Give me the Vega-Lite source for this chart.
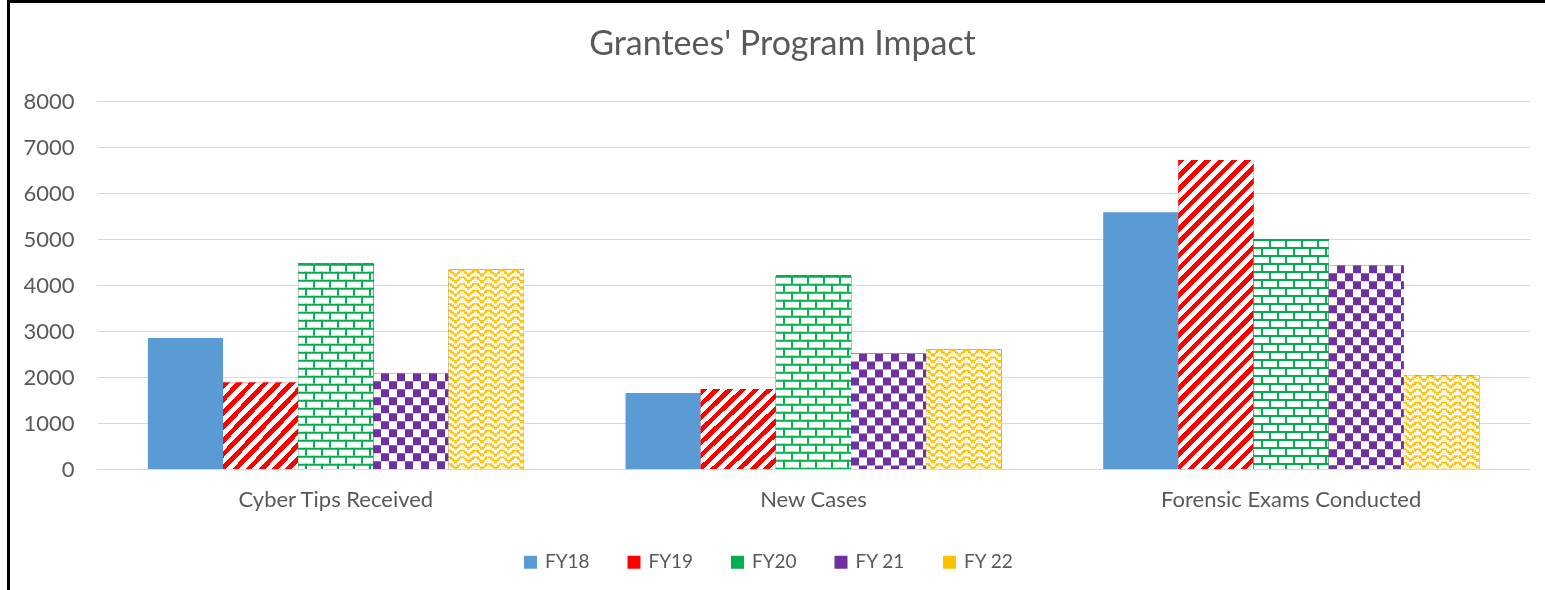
{
  "$schema": "https://vega.github.io/schema/vega-lite/v6.json",
  "width": 1433,
  "height": 368,
  "autosize": {"type": "none"},
  "padding": {"left": 97, "top": 101, "right": 15, "bottom": 121},
  "background": "white",
  "title": {"text": "Grantees' Program Impact", "font": "Lato", "fontSize": 34, "fontWeight": "normal", "color": "#595959", "anchor": "middle", "baseline": "alphabetic", "offset": -89, "dx": -31},
  "data": {"values": [
    {"cat": "Cyber Tips Received", "year": "FY18", "value": 2850},
    {"cat": "Cyber Tips Received", "year": "FY19", "value": 1880},
    {"cat": "Cyber Tips Received", "year": "FY20", "value": 4460},
    {"cat": "Cyber Tips Received", "year": "FY 21", "value": 2080},
    {"cat": "Cyber Tips Received", "year": "FY 22", "value": 4330},
    {"cat": "New Cases", "year": "FY18", "value": 1650},
    {"cat": "New Cases", "year": "FY19", "value": 1740},
    {"cat": "New Cases", "year": "FY20", "value": 4200},
    {"cat": "New Cases", "year": "FY 21", "value": 2510},
    {"cat": "New Cases", "year": "FY 22", "value": 2590},
    {"cat": "Forensic Exams Conducted", "year": "FY18", "value": 5580},
    {"cat": "Forensic Exams Conducted", "year": "FY19", "value": 6720},
    {"cat": "Forensic Exams Conducted", "year": "FY20", "value": 5000},
    {"cat": "Forensic Exams Conducted", "year": "FY 21", "value": 4430},
    {"cat": "Forensic Exams Conducted", "year": "FY 22", "value": 2040}
  ]},
  "encoding": {
    "x": {"field": "cat", "type": "nominal", "scale": {"domain": ["Cyber Tips Received", "New Cases", "Forensic Exams Conducted"], "paddingInner": 0.213, "paddingOuter": 0.1065}, "axis": {"title": null, "labelAngle": 0, "labelPadding": 20, "labelLimit": 0, "grid": false, "domain": false, "ticks": false}},
    "xOffset": {"field": "year", "type": "nominal", "scale": {"domain": ["FY18", "FY19", "FY20", "FY 21", "FY 22"], "paddingInner": 0, "paddingOuter": 0}},
    "y": {"field": "value", "type": "quantitative", "scale": {"domain": [0, 8000], "nice": false}, "axis": {"title": null, "format": "d", "values": [0, 1000, 2000, 3000, 4000, 5000, 6000, 7000, 8000], "grid": true, "domain": false, "ticks": false, "labelPadding": 23}}
  },
  "layer": [
    {
      "mark": {"type": "bar"},
      "encoding": {
        "color": {"field": "year", "type": "nominal", "scale": {"domain": ["FY18", "FY19", "FY20", "FY 21", "FY 22"], "range": ["#5B9BD5", "#FF0000", "#00B050", "#7030A0", "#FFC000"]}, "legend": {"orient": "none", "legendX": 424, "legendY": 451.5, "direction": "horizontal", "columns": 5, "title": null, "symbolType": "square", "symbolSize": 169, "symbolStrokeWidth": 0, "labelFont": "Lato", "labelFontSize": 19, "labelColor": "#595959", "labelOffset": 5, "columnPadding": 34.5, "padding": 0}},
        "opacity": {"datum": "frame", "type": "nominal", "scale": {"range": [1]}, "legend": {"orient": "none", "legendX": -88.5, "legendY": -99.5, "padding": 1500, "strokeColor": "black", "title": null, "labelExpr": "''", "symbolOpacity": 0, "symbolStrokeWidth": 0}}
      }
    },
    {
      "transform": [{"filter": "datum.year === 'FY19' && datum.cat !== 'Forensic Exams Conducted'"}],
      "mark": {"type": "bar", "color": {"gradient": "linear", "x1": 0, "y1": 0, "x2": 0.947, "y2": 1.047, "stops": [{"offset":0,"color":"red"},{"offset":0.04167,"color":"red"},{"offset":0.04167,"color":"#fff"},{"offset":0.08333,"color":"#fff"},{"offset":0.08333,"color":"red"},{"offset":0.125,"color":"red"},{"offset":0.125,"color":"#fff"},{"offset":0.16667,"color":"#fff"},{"offset":0.16667,"color":"red"},{"offset":0.20833,"color":"red"},{"offset":0.20833,"color":"#fff"},{"offset":0.25,"color":"#fff"},{"offset":0.25,"color":"red"},{"offset":0.29167,"color":"red"},{"offset":0.29167,"color":"#fff"},{"offset":0.33333,"color":"#fff"},{"offset":0.33333,"color":"red"},{"offset":0.375,"color":"red"},{"offset":0.375,"color":"#fff"},{"offset":0.41667,"color":"#fff"},{"offset":0.41667,"color":"red"},{"offset":0.45833,"color":"red"},{"offset":0.45833,"color":"#fff"},{"offset":0.5,"color":"#fff"},{"offset":0.5,"color":"red"},{"offset":0.54167,"color":"red"},{"offset":0.54167,"color":"#fff"},{"offset":0.58333,"color":"#fff"},{"offset":0.58333,"color":"red"},{"offset":0.625,"color":"red"},{"offset":0.625,"color":"#fff"},{"offset":0.66667,"color":"#fff"},{"offset":0.66667,"color":"red"},{"offset":0.70833,"color":"red"},{"offset":0.70833,"color":"#fff"},{"offset":0.75,"color":"#fff"},{"offset":0.75,"color":"red"},{"offset":0.79167,"color":"red"},{"offset":0.79167,"color":"#fff"},{"offset":0.83333,"color":"#fff"},{"offset":0.83333,"color":"red"},{"offset":0.875,"color":"red"},{"offset":0.875,"color":"#fff"},{"offset":0.91667,"color":"#fff"},{"offset":0.91667,"color":"red"},{"offset":0.95833,"color":"red"},{"offset":0.95833,"color":"#fff"},{"offset":1,"color":"#fff"}]}}
    },
    {
      "transform": [{"filter": "datum.year === 'FY19' && datum.cat === 'Forensic Exams Conducted'"}],
      "mark": {"type": "bar", "color": {"gradient": "linear", "x1": 0, "y1": 0, "x2": 0.28547, "y2": 1.17378, "stops": [{"offset":0,"color":"red"},{"offset":0.01724,"color":"red"},{"offset":0.01724,"color":"#fff"},{"offset":0.03448,"color":"#fff"},{"offset":0.03448,"color":"red"},{"offset":0.05172,"color":"red"},{"offset":0.05172,"color":"#fff"},{"offset":0.06897,"color":"#fff"},{"offset":0.06897,"color":"red"},{"offset":0.08621,"color":"red"},{"offset":0.08621,"color":"#fff"},{"offset":0.10345,"color":"#fff"},{"offset":0.10345,"color":"red"},{"offset":0.12069,"color":"red"},{"offset":0.12069,"color":"#fff"},{"offset":0.13793,"color":"#fff"},{"offset":0.13793,"color":"red"},{"offset":0.15517,"color":"red"},{"offset":0.15517,"color":"#fff"},{"offset":0.17241,"color":"#fff"},{"offset":0.17241,"color":"red"},{"offset":0.18966,"color":"red"},{"offset":0.18966,"color":"#fff"},{"offset":0.2069,"color":"#fff"},{"offset":0.2069,"color":"red"},{"offset":0.22414,"color":"red"},{"offset":0.22414,"color":"#fff"},{"offset":0.24138,"color":"#fff"},{"offset":0.24138,"color":"red"},{"offset":0.25862,"color":"red"},{"offset":0.25862,"color":"#fff"},{"offset":0.27586,"color":"#fff"},{"offset":0.27586,"color":"red"},{"offset":0.2931,"color":"red"},{"offset":0.2931,"color":"#fff"},{"offset":0.31034,"color":"#fff"},{"offset":0.31034,"color":"red"},{"offset":0.32759,"color":"red"},{"offset":0.32759,"color":"#fff"},{"offset":0.34483,"color":"#fff"},{"offset":0.34483,"color":"red"},{"offset":0.36207,"color":"red"},{"offset":0.36207,"color":"#fff"},{"offset":0.37931,"color":"#fff"},{"offset":0.37931,"color":"red"},{"offset":0.39655,"color":"red"},{"offset":0.39655,"color":"#fff"},{"offset":0.41379,"color":"#fff"},{"offset":0.41379,"color":"red"},{"offset":0.43103,"color":"red"},{"offset":0.43103,"color":"#fff"},{"offset":0.44828,"color":"#fff"},{"offset":0.44828,"color":"red"},{"offset":0.46552,"color":"red"},{"offset":0.46552,"color":"#fff"},{"offset":0.48276,"color":"#fff"},{"offset":0.48276,"color":"red"},{"offset":0.5,"color":"red"},{"offset":0.5,"color":"#fff"},{"offset":0.51724,"color":"#fff"},{"offset":0.51724,"color":"red"},{"offset":0.53448,"color":"red"},{"offset":0.53448,"color":"#fff"},{"offset":0.55172,"color":"#fff"},{"offset":0.55172,"color":"red"},{"offset":0.56897,"color":"red"},{"offset":0.56897,"color":"#fff"},{"offset":0.58621,"color":"#fff"},{"offset":0.58621,"color":"red"},{"offset":0.60345,"color":"red"},{"offset":0.60345,"color":"#fff"},{"offset":0.62069,"color":"#fff"},{"offset":0.62069,"color":"red"},{"offset":0.63793,"color":"red"},{"offset":0.63793,"color":"#fff"},{"offset":0.65517,"color":"#fff"},{"offset":0.65517,"color":"red"},{"offset":0.67241,"color":"red"},{"offset":0.67241,"color":"#fff"},{"offset":0.68966,"color":"#fff"},{"offset":0.68966,"color":"red"},{"offset":0.7069,"color":"red"},{"offset":0.7069,"color":"#fff"},{"offset":0.72414,"color":"#fff"},{"offset":0.72414,"color":"red"},{"offset":0.74138,"color":"red"},{"offset":0.74138,"color":"#fff"},{"offset":0.75862,"color":"#fff"},{"offset":0.75862,"color":"red"},{"offset":0.77586,"color":"red"},{"offset":0.77586,"color":"#fff"},{"offset":0.7931,"color":"#fff"},{"offset":0.7931,"color":"red"},{"offset":0.81034,"color":"red"},{"offset":0.81034,"color":"#fff"},{"offset":0.82759,"color":"#fff"},{"offset":0.82759,"color":"red"},{"offset":0.84483,"color":"red"},{"offset":0.84483,"color":"#fff"},{"offset":0.86207,"color":"#fff"},{"offset":0.86207,"color":"red"},{"offset":0.87931,"color":"red"},{"offset":0.87931,"color":"#fff"},{"offset":0.89655,"color":"#fff"},{"offset":0.89655,"color":"red"},{"offset":0.91379,"color":"red"},{"offset":0.91379,"color":"#fff"},{"offset":0.93103,"color":"#fff"},{"offset":0.93103,"color":"red"},{"offset":0.94828,"color":"red"},{"offset":0.94828,"color":"#fff"},{"offset":0.96552,"color":"#fff"},{"offset":0.96552,"color":"red"},{"offset":0.98276,"color":"red"},{"offset":0.98276,"color":"#fff"},{"offset":1,"color":"#fff"}]}}
    },
    {
      "transform": [{"filter": "datum.year === 'FY20'"}],
      "mark": {"type": "bar", "color": {"gradient": "linear", "x1": 0, "y1": 0, "x2": 1, "y2": 0, "stops": [{"offset":0,"color":"#000"},{"offset":0.0931,"color":"#000"},{"offset":0.0931,"color":"#fff"},{"offset":0.1197,"color":"#fff"},{"offset":0.1197,"color":"#000"},{"offset":0.1995,"color":"#000"},{"offset":0.1995,"color":"#fff"},{"offset":0.2261,"color":"#fff"},{"offset":0.2261,"color":"#000"},{"offset":0.3059,"color":"#000"},{"offset":0.3059,"color":"#fff"},{"offset":0.3325,"color":"#fff"},{"offset":0.3325,"color":"#000"},{"offset":0.4123,"color":"#000"},{"offset":0.4123,"color":"#fff"},{"offset":0.4389,"color":"#fff"},{"offset":0.4389,"color":"#000"},{"offset":0.5188,"color":"#000"},{"offset":0.5188,"color":"#fff"},{"offset":0.5454,"color":"#fff"},{"offset":0.5454,"color":"#000"},{"offset":0.6252,"color":"#000"},{"offset":0.6252,"color":"#fff"},{"offset":0.6518,"color":"#fff"},{"offset":0.6518,"color":"#000"},{"offset":0.7316,"color":"#000"},{"offset":0.7316,"color":"#fff"},{"offset":0.7582,"color":"#fff"},{"offset":0.7582,"color":"#000"},{"offset":0.838,"color":"#000"},{"offset":0.838,"color":"#fff"},{"offset":0.8646,"color":"#fff"},{"offset":0.8646,"color":"#000"},{"offset":0.9444,"color":"#000"},{"offset":0.9444,"color":"#fff"},{"offset":0.971,"color":"#fff"},{"offset":0.971,"color":"#000"},{"offset":1,"color":"#000"}]}}
    },
    {
      "transform": [{"filter": "datum.year === 'FY20'"}],
      "mark": {"type": "rule", "color": "#000", "strokeWidth": 75.18, "strokeDash": [8, 8]},
      "encoding": {"y2": {"datum": 0}}
    },
    {
      "transform": [{"filter": "datum.year === 'FY20'"}],
      "mark": {"type": "bar", "blend": "difference", "color": {"gradient": "linear", "x1": 0, "y1": 0, "x2": 1, "y2": 0, "stops": [{"offset":0,"color":"#fff"},{"offset":0.1995,"color":"#fff"},{"offset":0.1995,"color":"#000"},{"offset":0.2261,"color":"#000"},{"offset":0.2261,"color":"#fff"},{"offset":0.4123,"color":"#fff"},{"offset":0.4123,"color":"#000"},{"offset":0.4389,"color":"#000"},{"offset":0.4389,"color":"#fff"},{"offset":0.6252,"color":"#fff"},{"offset":0.6252,"color":"#000"},{"offset":0.6518,"color":"#000"},{"offset":0.6518,"color":"#fff"},{"offset":0.838,"color":"#fff"},{"offset":0.838,"color":"#000"},{"offset":0.8646,"color":"#000"},{"offset":0.8646,"color":"#fff"},{"offset":1,"color":"#fff"}]}}
    },
    {
      "transform": [{"filter": "datum.year === 'FY20'"}],
      "mark": {"type": "rule", "color": "#000", "strokeWidth": 75.18, "strokeDash": [2, 6]},
      "encoding": {"y2": {"datum": 0}}
    },
    {
      "transform": [{"filter": "datum.year === 'FY20'"}],
      "mark": {"type": "bar", "blend": "screen", "color": "#00B050"}
    },
    {
      "transform": [{"filter": "datum.year === 'FY 21'"}],
      "mark": {"type": "bar", "color": {"gradient": "linear", "x1": 0, "y1": 0, "x2": 1, "y2": 0, "stops": [{"offset":0,"color":"#000"},{"offset":0.1064,"color":"#000"},{"offset":0.1064,"color":"#fff"},{"offset":0.2128,"color":"#fff"},{"offset":0.2128,"color":"#000"},{"offset":0.3192,"color":"#000"},{"offset":0.3192,"color":"#fff"},{"offset":0.4256,"color":"#fff"},{"offset":0.4256,"color":"#000"},{"offset":0.5321,"color":"#000"},{"offset":0.5321,"color":"#fff"},{"offset":0.6385,"color":"#fff"},{"offset":0.6385,"color":"#000"},{"offset":0.7449,"color":"#000"},{"offset":0.7449,"color":"#fff"},{"offset":0.8513,"color":"#fff"},{"offset":0.8513,"color":"#000"},{"offset":0.9577,"color":"#000"},{"offset":0.9577,"color":"#fff"},{"offset":1,"color":"#fff"}]}}
    },
    {
      "transform": [{"filter": "datum.year === 'FY 21'"}],
      "mark": {"type": "rule", "color": "#fff", "blend": "difference", "strokeWidth": 75.18, "strokeDash": [8, 8]},
      "encoding": {"y2": {"datum": 0}}
    },
    {
      "transform": [{"filter": "datum.year === 'FY 21'"}],
      "mark": {"type": "bar", "blend": "screen", "color": "#7030A0"}
    },
    {
      "transform": [{"filter": "datum.year === 'FY 22'"}],
      "mark": {"type": "bar", "color": {"gradient": "linear", "x1": 0, "y1": 0, "x2": 1, "y2": 0, "stops": [{"offset":0,"color":"#000"},{"offset":0.02217,"color":"#000"},{"offset":0.02217,"color":"#fff"},{"offset":0.04434,"color":"#fff"},{"offset":0.04434,"color":"#000"},{"offset":0.06651,"color":"#000"},{"offset":0.06651,"color":"#fff"},{"offset":0.11085,"color":"#fff"},{"offset":0.11085,"color":"#000"},{"offset":0.13301,"color":"#000"},{"offset":0.13301,"color":"#fff"},{"offset":0.15518,"color":"#fff"},{"offset":0.15518,"color":"#000"},{"offset":0.19952,"color":"#000"},{"offset":0.19952,"color":"#fff"},{"offset":0.22169,"color":"#fff"},{"offset":0.22169,"color":"#000"},{"offset":0.24386,"color":"#000"},{"offset":0.24386,"color":"#fff"},{"offset":0.2882,"color":"#fff"},{"offset":0.2882,"color":"#000"},{"offset":0.31037,"color":"#000"},{"offset":0.31037,"color":"#fff"},{"offset":0.33254,"color":"#fff"},{"offset":0.33254,"color":"#000"},{"offset":0.37687,"color":"#000"},{"offset":0.37687,"color":"#fff"},{"offset":0.39904,"color":"#fff"},{"offset":0.39904,"color":"#000"},{"offset":0.42121,"color":"#000"},{"offset":0.42121,"color":"#fff"},{"offset":0.46555,"color":"#fff"},{"offset":0.46555,"color":"#000"},{"offset":0.48772,"color":"#000"},{"offset":0.48772,"color":"#fff"},{"offset":0.50989,"color":"#fff"},{"offset":0.50989,"color":"#000"},{"offset":0.55423,"color":"#000"},{"offset":0.55423,"color":"#fff"},{"offset":0.57639,"color":"#fff"},{"offset":0.57639,"color":"#000"},{"offset":0.59856,"color":"#000"},{"offset":0.59856,"color":"#fff"},{"offset":0.6429,"color":"#fff"},{"offset":0.6429,"color":"#000"},{"offset":0.66507,"color":"#000"},{"offset":0.66507,"color":"#fff"},{"offset":0.68724,"color":"#fff"},{"offset":0.68724,"color":"#000"},{"offset":0.73158,"color":"#000"},{"offset":0.73158,"color":"#fff"},{"offset":0.75375,"color":"#fff"},{"offset":0.75375,"color":"#000"},{"offset":0.77592,"color":"#000"},{"offset":0.77592,"color":"#fff"},{"offset":0.82025,"color":"#fff"},{"offset":0.82025,"color":"#000"},{"offset":0.84242,"color":"#000"},{"offset":0.84242,"color":"#fff"},{"offset":0.86459,"color":"#fff"},{"offset":0.86459,"color":"#000"},{"offset":0.90893,"color":"#000"},{"offset":0.90893,"color":"#fff"},{"offset":0.9311,"color":"#fff"},{"offset":0.9311,"color":"#000"},{"offset":0.95327,"color":"#000"},{"offset":0.95327,"color":"#fff"},{"offset":0.99761,"color":"#fff"},{"offset":0.99761,"color":"#000"},{"offset":1,"color":"#000"}]}}
    },
    {
      "transform": [{"filter": "datum.year === 'FY 22'"}],
      "mark": {"type": "rule", "color": "#fff", "strokeWidth": 75.18, "strokeDash": [1.6667, 5], "strokeDashOffset": 5},
      "encoding": {"y2": {"datum": 0}}
    },
    {
      "transform": [{"filter": "datum.year === 'FY 22'"}],
      "mark": {"type": "bar", "blend": "difference", "color": {"gradient": "linear", "x1": 0, "y1": 0, "x2": 1, "y2": 0, "stops": [{"offset":0,"color":"#000"},{"offset":0.02217,"color":"#000"},{"offset":0.02217,"color":"#fff"},{"offset":0.04434,"color":"#fff"},{"offset":0.04434,"color":"#000"},{"offset":0.06651,"color":"#000"},{"offset":0.06651,"color":"#fff"},{"offset":0.11085,"color":"#fff"},{"offset":0.11085,"color":"#000"},{"offset":0.13301,"color":"#000"},{"offset":0.13301,"color":"#fff"},{"offset":0.15518,"color":"#fff"},{"offset":0.15518,"color":"#000"},{"offset":0.19952,"color":"#000"},{"offset":0.19952,"color":"#fff"},{"offset":0.22169,"color":"#fff"},{"offset":0.22169,"color":"#000"},{"offset":0.24386,"color":"#000"},{"offset":0.24386,"color":"#fff"},{"offset":0.2882,"color":"#fff"},{"offset":0.2882,"color":"#000"},{"offset":0.31037,"color":"#000"},{"offset":0.31037,"color":"#fff"},{"offset":0.33254,"color":"#fff"},{"offset":0.33254,"color":"#000"},{"offset":0.37687,"color":"#000"},{"offset":0.37687,"color":"#fff"},{"offset":0.39904,"color":"#fff"},{"offset":0.39904,"color":"#000"},{"offset":0.42121,"color":"#000"},{"offset":0.42121,"color":"#fff"},{"offset":0.46555,"color":"#fff"},{"offset":0.46555,"color":"#000"},{"offset":0.48772,"color":"#000"},{"offset":0.48772,"color":"#fff"},{"offset":0.50989,"color":"#fff"},{"offset":0.50989,"color":"#000"},{"offset":0.55423,"color":"#000"},{"offset":0.55423,"color":"#fff"},{"offset":0.57639,"color":"#fff"},{"offset":0.57639,"color":"#000"},{"offset":0.59856,"color":"#000"},{"offset":0.59856,"color":"#fff"},{"offset":0.6429,"color":"#fff"},{"offset":0.6429,"color":"#000"},{"offset":0.66507,"color":"#000"},{"offset":0.66507,"color":"#fff"},{"offset":0.68724,"color":"#fff"},{"offset":0.68724,"color":"#000"},{"offset":0.73158,"color":"#000"},{"offset":0.73158,"color":"#fff"},{"offset":0.75375,"color":"#fff"},{"offset":0.75375,"color":"#000"},{"offset":0.77592,"color":"#000"},{"offset":0.77592,"color":"#fff"},{"offset":0.82025,"color":"#fff"},{"offset":0.82025,"color":"#000"},{"offset":0.84242,"color":"#000"},{"offset":0.84242,"color":"#fff"},{"offset":0.86459,"color":"#fff"},{"offset":0.86459,"color":"#000"},{"offset":0.90893,"color":"#000"},{"offset":0.90893,"color":"#fff"},{"offset":0.9311,"color":"#fff"},{"offset":0.9311,"color":"#000"},{"offset":0.95327,"color":"#000"},{"offset":0.95327,"color":"#fff"},{"offset":0.99761,"color":"#fff"},{"offset":0.99761,"color":"#000"},{"offset":1,"color":"#000"}]}}
    },
    {
      "transform": [{"filter": "datum.year === 'FY 22'"}],
      "mark": {"type": "rule", "color": "#fff", "strokeWidth": 75.18, "strokeDash": [1.6667, 5], "strokeDashOffset": 3.3333},
      "encoding": {"y2": {"datum": 0}}
    },
    {
      "transform": [{"filter": "datum.year === 'FY 22'"}],
      "mark": {"type": "bar", "blend": "difference", "color": {"gradient": "linear", "x1": 0, "y1": 0, "x2": 1, "y2": 0, "stops": [{"offset":0,"color":"#000"},{"offset":0.04434,"color":"#000"},{"offset":0.04434,"color":"#fff"},{"offset":0.06651,"color":"#fff"},{"offset":0.06651,"color":"#000"},{"offset":0.11085,"color":"#000"},{"offset":0.11085,"color":"#fff"},{"offset":0.13301,"color":"#fff"},{"offset":0.13301,"color":"#000"},{"offset":0.22169,"color":"#000"},{"offset":0.22169,"color":"#fff"},{"offset":0.24386,"color":"#fff"},{"offset":0.24386,"color":"#000"},{"offset":0.2882,"color":"#000"},{"offset":0.2882,"color":"#fff"},{"offset":0.31037,"color":"#fff"},{"offset":0.31037,"color":"#000"},{"offset":0.39904,"color":"#000"},{"offset":0.39904,"color":"#fff"},{"offset":0.42121,"color":"#fff"},{"offset":0.42121,"color":"#000"},{"offset":0.46555,"color":"#000"},{"offset":0.46555,"color":"#fff"},{"offset":0.48772,"color":"#fff"},{"offset":0.48772,"color":"#000"},{"offset":0.57639,"color":"#000"},{"offset":0.57639,"color":"#fff"},{"offset":0.59856,"color":"#fff"},{"offset":0.59856,"color":"#000"},{"offset":0.6429,"color":"#000"},{"offset":0.6429,"color":"#fff"},{"offset":0.66507,"color":"#fff"},{"offset":0.66507,"color":"#000"},{"offset":0.75375,"color":"#000"},{"offset":0.75375,"color":"#fff"},{"offset":0.77592,"color":"#fff"},{"offset":0.77592,"color":"#000"},{"offset":0.82025,"color":"#000"},{"offset":0.82025,"color":"#fff"},{"offset":0.84242,"color":"#fff"},{"offset":0.84242,"color":"#000"},{"offset":0.9311,"color":"#000"},{"offset":0.9311,"color":"#fff"},{"offset":0.95327,"color":"#fff"},{"offset":0.95327,"color":"#000"},{"offset":0.99761,"color":"#000"},{"offset":0.99761,"color":"#fff"},{"offset":1,"color":"#fff"}]}}
    },
    {
      "transform": [{"filter": "datum.year === 'FY 22'"}],
      "mark": {"type": "rule", "color": "#fff", "strokeWidth": 75.18, "strokeDash": [1.6667, 5], "strokeDashOffset": 1.6667},
      "encoding": {"y2": {"datum": 0}}
    },
    {
      "transform": [{"filter": "datum.year === 'FY 22'"}],
      "mark": {"type": "bar", "blend": "difference", "color": {"gradient": "linear", "x1": 0, "y1": 0, "x2": 1, "y2": 0, "stops": [{"offset":0,"color":"#000"},{"offset":0.06651,"color":"#000"},{"offset":0.06651,"color":"#fff"},{"offset":0.11085,"color":"#fff"},{"offset":0.11085,"color":"#000"},{"offset":0.24386,"color":"#000"},{"offset":0.24386,"color":"#fff"},{"offset":0.2882,"color":"#fff"},{"offset":0.2882,"color":"#000"},{"offset":0.42121,"color":"#000"},{"offset":0.42121,"color":"#fff"},{"offset":0.46555,"color":"#fff"},{"offset":0.46555,"color":"#000"},{"offset":0.59856,"color":"#000"},{"offset":0.59856,"color":"#fff"},{"offset":0.6429,"color":"#fff"},{"offset":0.6429,"color":"#000"},{"offset":0.77592,"color":"#000"},{"offset":0.77592,"color":"#fff"},{"offset":0.82025,"color":"#fff"},{"offset":0.82025,"color":"#000"},{"offset":0.95327,"color":"#000"},{"offset":0.95327,"color":"#fff"},{"offset":0.99761,"color":"#fff"},{"offset":0.99761,"color":"#000"},{"offset":1,"color":"#000"}]}}
    },
    {
      "transform": [{"filter": "datum.year === 'FY 22'"}],
      "mark": {"type": "bar", "blend": "screen", "color": "#FFC000"}
    }
  ],
  "config": {
    "font": "Lato",
    "view": {"stroke": null},
    "axis": {"labelFont": "Lato", "labelFontSize": 22, "labelColor": "#595959", "gridColor": "#D9D9D9", "gridWidth": 1},
    "legend": {"strokeWidth": 3}
  }
}
